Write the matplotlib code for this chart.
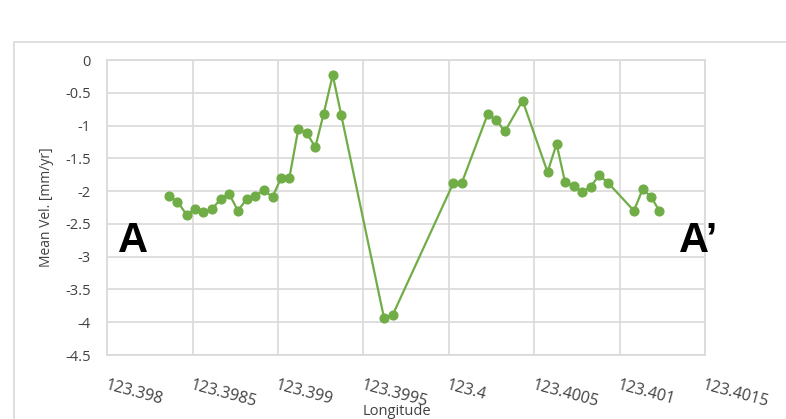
import matplotlib.pyplot as plt
from matplotlib.patches import Rectangle

# profile A-A' : mean velocity along longitude
lon = [123.398361, 123.398410, 123.398465, 123.398512, 123.398562, 123.398611,
       123.398664, 123.398713, 123.398765, 123.398816, 123.398867, 123.398917,
       123.398968, 123.399017, 123.399066, 123.399118, 123.399167, 123.399218,
       123.399267, 123.399320, 123.399370, 123.399620, 123.399671, 123.400026,
       123.400075, 123.400227, 123.400276, 123.400328, 123.400432, 123.400578,
       123.400631, 123.400680, 123.400732, 123.400781, 123.400830, 123.400881,
       123.400931, 123.401084, 123.401135, 123.401185, 123.401232]
vel = [-2.08, -2.16, -2.36, -2.28, -2.32, -2.28, -2.12, -2.04, -2.30, -2.12,
       -2.07, -1.99, -2.09, -1.80, -1.80, -1.06, -1.11, -1.33, -0.82, -0.23,
       -0.84, -3.93, -3.89, -1.88, -1.88, -0.83, -0.91, -1.09, -0.62, -1.71,
       -1.28, -1.86, -1.92, -2.02, -1.93, -1.76, -1.87, -2.30, -1.97, -2.09,
       -2.30]

x_ticks = [123.398, 123.3985, 123.399, 123.3995, 123.4, 123.4005, 123.401, 123.4015]
x_labels = ['123.398', '123.3985', '123.399', '123.3995', '123.4', '123.4005',
            '123.401', '123.4015']
y_ticks = [0, -0.5, -1, -1.5, -2, -2.5, -3, -3.5, -4, -4.5]
y_labels = ['0', '-0.5', '-1', '-1.5', '-2', '-2.5', '-3', '-3.5', '-4', '-4.5']

green = '#70AD47'
grid_c = '#D9D9D9'
text_c = '#404040'

plt.rcParams['font.family'] = ['Open Sans', 'DejaVu Sans']

fig = plt.figure(figsize=(7.86, 4.19), dpi=100)
fig.patch.set_facecolor('white')

# outer chart frame
fig.patches.append(Rectangle((14 / 786, -0.1), 1.2, 1 - 42 / 419 + 0.1,
                             transform=fig.transFigure, fill=False,
                             ec=grid_c, lw=1.2, zorder=0))

ax = fig.add_axes([107.3 / 786, 1 - 355 / 419, (705 - 107.3) / 786, (355 - 60) / 419])
ax.plot(lon, vel, color=green, lw=1.6, marker='o', ms=6.3, zorder=3,
        clip_on=False)

ax.set_xlim(123.398, 123.4015)
ax.set_ylim(-4.5, 0)
ax.set_xticks(x_ticks)
ax.set_xticklabels(x_labels, rotation=-15, ha='left', va='top',
                   rotation_mode='anchor', fontsize=11.5, color=text_c)
ax.set_yticks(y_ticks)
ax.set_yticklabels(y_labels, fontsize=10.5, color=text_c)
ax.tick_params(axis='x', length=0, pad=16)
ax.tick_params(axis='y', length=0, pad=12)

ax.grid(True, color=grid_c, lw=1.2, zorder=0)
ax.set_axisbelow(True)
for sp in ax.spines.values():
    sp.set_color(grid_c)
    sp.set_linewidth(1.2)

ax.set_ylabel('Mean Vel. [mm/yr]', fontsize=10, color=text_c, labelpad=8)
fig.text(0.505, 1 - 404 / 419, 'Longitude', ha='center', va='top',
         fontsize=10.5, color=text_c)

ax.text(118 / 786, 1 - 252 / 419, 'A', transform=fig.transFigure,
        family='Liberation Sans', weight='bold', fontsize=30,
        ha='left', va='baseline', zorder=5)
ax.text(679 / 786, 1 - 252 / 419, 'A\u2019', transform=fig.transFigure,
        family='Liberation Sans', weight='bold', fontsize=30,
        ha='left', va='baseline', zorder=5)

fig.savefig('out.png', dpi=100)
